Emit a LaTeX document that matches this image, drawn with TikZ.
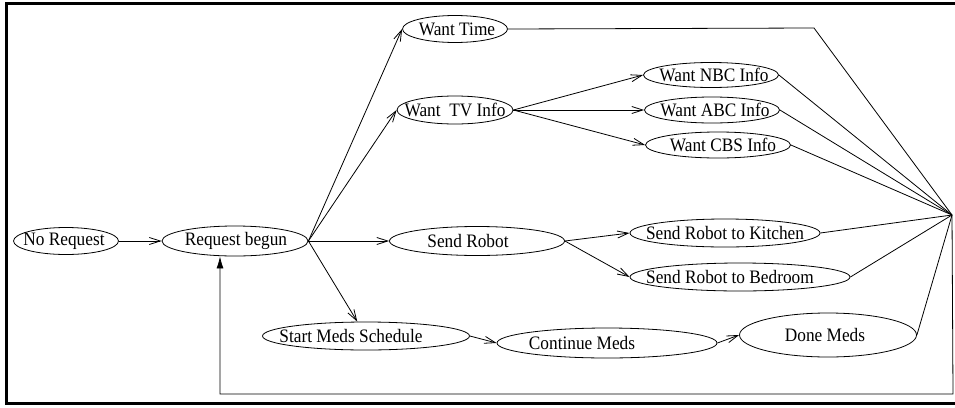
\documentclass[tikz,border=0pt]{standalone}
\usepackage{fontspec}
\setmainfont{Liberation Serif}
\newfontfamily\statefont[FakeStretch=0.91]{Liberation Serif}
\usetikzlibrary{shapes.geometric,arrows.meta}
\tikzset{
        state/.style={ellipse, draw=black, line width=0.8pt, inner sep=0pt},
        flow/.style={line width=0.8pt, -{Straight Barb[length=11pt,width=7pt]}},
        tohub/.style={line width=0.8pt},
        back/.style={line width=0.8pt, -{Latex[length=12pt,width=7pt]}},
        frame/.style={line width=3pt},
        every label/.style={font=\statefont\fontsize{19}{22}\selectfont, inner sep=0pt}
          }
\begin{document}
\begin{tikzpicture}[x=1pt, y=-1pt]
            \useasboundingbox (0,0) rectangle (955,407);
            \draw[frame] (955,3.5) -- (6,3.5) -- (6,403.5) -- (955,403.5);

            \node[state, minimum width=105pt, minimum height=27pt, label={[xshift=-2pt]center:No Request}] (nr) at (66,241) {};
            \node[state, minimum width=146pt, minimum height=30pt, label={[xshift=1pt]center:Request begun}] (rb) at (235,241) {};
            \node[state, minimum width=105pt, minimum height=27pt, label={[xshift=2pt]center:Want Time}] (wt) at (455,29) {};
            \node[state, minimum width=116pt, minimum height=28pt, label={center:Want~~TV Info}] (tv) at (455,110) {};
            \node[state, minimum width=135pt, minimum height=25pt, label={[xshift=3pt]center:Want NBC Info}] (nbc) at (711,75) {};
            \node[state, minimum width=135pt, minimum height=26pt, label={[xshift=3pt]center:Want ABC Info}] (abc) at (712,110) {};
            \node[state, minimum width=145pt, minimum height=26pt, label={[xshift=5pt]center:Want CBS Info}] (cbs) at (718,145) {};
            \node[state, minimum width=175pt, minimum height=29pt, label={[xshift=-9pt]center:Send Robot}] (sr) at (477,241) {};
            \node[state, minimum width=190pt, minimum height=28pt, label={center:Send Robot to Kitchen}] (kit) at (725,233) {};
            \node[state, minimum width=220pt, minimum height=28pt, label={[xshift=-10pt]center:Send Robot to Bedroom}] (bed) at (740,277) {};
            \node[state, minimum width=207pt, minimum height=28pt, label={[xshift=-15pt]center:Start Meds Schedule}] (sms) at (366,336) {};
            \node[state, minimum width=220pt, minimum height=30pt, label={[xshift=-25pt]center:Continue Meds}] (cm) at (607,343) {};
            \node[state, minimum width=177pt, minimum height=44pt, label={[xshift=-3pt]center:Done Meds}] (dm) at (828,335) {};

            \coordinate (hub) at (952,215);
            \coordinate (bend) at (814,28);
            \coordinate (fbr) at (953,394);
            \coordinate (fbl) at (220,394);

            \draw[flow] (nr.east) -- (rb.west);
            \draw[flow] (rb.east) -- (wt.west);
            \draw[flow] (rb.east) -- (tv.west);
            \draw[flow] (rb.east) -- (sr.west);
            \draw[flow] (rb.east) -- (sms);
            \draw[flow] (tv.east) -- (nbc.west);
            \draw[flow] (tv.east) -- (abc.west);
            \draw[flow] (tv.east) -- (cbs.west);
            \draw[flow] (sr.east) -- (kit.west);
            \draw[flow] (sr.east) -- (bed.west);
            \draw[flow] (sms.east) -- (cm.west);
            \draw[flow] (cm.east) -- (dm.west);

            \draw[tohub] (wt.east) -- (bend) -- (hub);
            \draw[tohub] (nbc.east) -- (hub);
            \draw[tohub] (abc.east) -- (hub);
            \draw[tohub] (cbs.east) -- (hub);
            \draw[tohub] (kit.east) -- (hub);
            \draw[tohub] (bed.east) -- (hub);
            \draw[tohub] (dm.east) -- (hub);
            \draw[back] (hub) -- (fbr) -- (fbl) -- (fbl |- rb.south);
          \end{tikzpicture}
\end{document}
